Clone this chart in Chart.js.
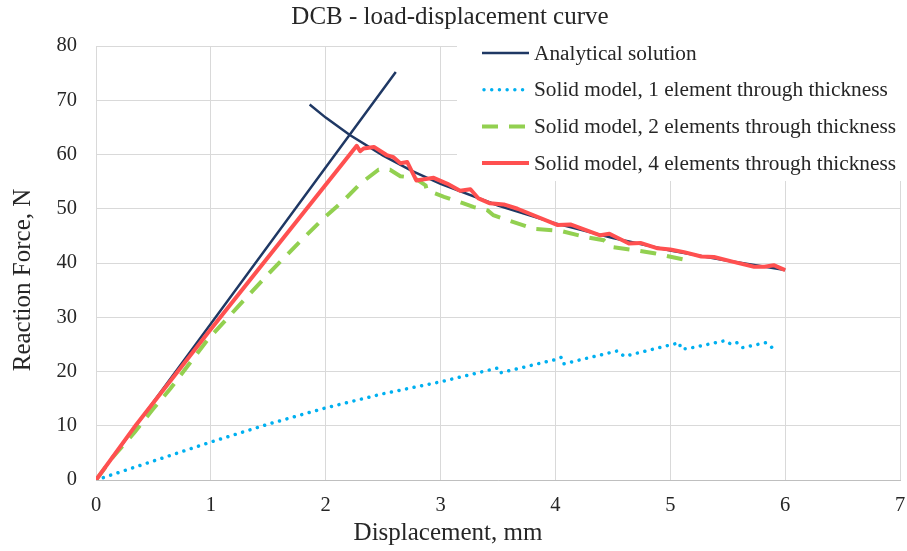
<!DOCTYPE html>
<html lang="en">
<head>
    <meta charset="UTF-8">
    <title>DCB - load-displacement curve</title>
    <script src="https://cdn.jsdelivr.net/npm/chart.js"></script>
    <style>
        body { margin: 0; background: #fff; }
        .chart-box { width: 907px; height: 551px; position: relative; }
    </style>
</head>
<body>
    <div class="chart-box">
        <canvas id="dcbChart"></canvas>
    </div>

    <script>
        // Series names (legend order)
        const seriesNames = [
            'Analytical solution',
            'Solid model, 1 element through thickness',
            'Solid model, 2 elements through thickness',
            'Solid model, 4 elements through thickness'
        ];

        // Analytical solution: rising branch, gap, then falling branch
        const analyticalX = [0, 2.61, null, 1.86, 2.0, 2.21, 2.5, 2.75, 3.0, 3.5, 4.0, 4.5, 5.0, 5.5, 6.0];
        const analyticalY = [0, 75.2, null, 69.2, 66.8, 63.6, 59.8, 57.0, 54.6, 50.6, 47.3, 44.6, 42.3, 40.4, 38.7];

        // Solid model, 1 element through thickness
        const solid1X = [0, 0.5, 1.0, 1.5, 2.0, 2.5, 3.0, 3.49, 3.51, 4.0, 4.05, 4.07, 4.54, 4.60, 5.0, 5.08, 5.09, 5.15, 5.48, 5.53, 5.58, 5.63, 5.83, 5.90];
        const solid1Y = [0, 3.5, 7.0, 10.3, 13.3, 15.9, 18.1, 20.6, 19.7, 22.2, 22.6, 21.4, 23.8, 22.8, 24.9, 25.3, 24.2, 24.2, 25.7, 25.0, 25.3, 24.4, 25.3, 24.2];

        // Solid model, 2 elements through thickness
        const solid2X = [0, 0.15, 0.34, 0.49, 0.65, 0.97, 1.26, 1.52, 1.75, 1.98, 2.16, 2.30, 2.46, 2.56, 2.65, 2.77, 2.87, 2.88, 3.03, 3.20, 3.29, 3.41, 3.46, 3.81, 4.05, 4.28, 4.42, 4.48, 4.68, 4.86, 5.15];
        const solid2Y = [0, 4.3, 8.9, 12.9, 16.9, 25.8, 32.5, 38.4, 43.4, 48.2, 51.6, 54.6, 57.2, 57.2, 56.0, 55.7, 54.3, 53.4, 52.2, 51.0, 50.3, 49.7, 48.8, 46.3, 45.9, 44.7, 44.2, 43.0, 42.4, 41.8, 40.5];

        // Solid model, 4 elements through thickness
        const solid4X = [0, 0.35, 0.97, 2.27, 2.30, 2.33, 2.42, 2.53, 2.59, 2.65, 2.71, 2.79, 2.94, 3.06, 3.17, 3.26, 3.33, 3.43, 3.55, 3.67, 4.02, 4.13, 4.39, 4.47, 4.64, 4.74, 4.89, 5.00, 5.12, 5.27, 5.38, 5.55, 5.73, 5.82, 5.90, 6.00];
        const solid4Y = [0, 10.2, 27.0, 61.6, 60.6, 61.1, 61.4, 59.9, 59.5, 58.4, 58.6, 55.2, 55.7, 54.6, 53.3, 53.6, 51.9, 51.0, 50.8, 50.0, 47.0, 47.1, 45.1, 45.4, 43.6, 43.7, 42.7, 42.5, 42.0, 41.2, 41.1, 40.2, 39.3, 39.3, 39.6, 38.7];

        // Axis ticks
        const xTicks = [0, 1, 2, 3, 4, 5, 6, 7];
        const yTicks = [0, 10, 20, 30, 40, 50, 60, 70, 80];

        const toPoints = (xs, ys) => xs.map((x, i) => ({ x: x, y: ys[i] }));

        const serif = "'Liberation Serif', 'Times New Roman', serif";
        const textColor = '#262626';

        // Legend drawn inside the plot on a white box, like the spreadsheet chart
        const boxLegend = {
            id: 'boxLegend',
            afterDatasetsDraw(chart) {
                const ctx = chart.ctx;
                const area = chart.chartArea;
                const left = 457;
                const bottom = 181;
                ctx.save();
                ctx.fillStyle = '#ffffff';
                ctx.fillRect(left, area.top - 2, area.right - left + 4, bottom - area.top + 2);

                ctx.font = '21.3px ' + serif;
                ctx.textBaseline = 'middle';
                ctx.textAlign = 'left';
                chart.data.datasets.forEach((ds, i) => {
                    const y = 53 + i * 36.7;
                    ctx.beginPath();
                    ctx.strokeStyle = ds.borderColor;
                    ctx.lineWidth = ds.borderWidth;
                    ctx.lineCap = ds.borderCapStyle || 'butt';
                    ctx.setLineDash(ds.borderDash || []);
                    const x0 = ds.borderCapStyle === 'round' ? 484 : 482;
                    ctx.moveTo(x0, y);
                    ctx.lineTo(529, y);
                    ctx.stroke();
                    ctx.setLineDash([]);
                    ctx.fillStyle = textColor;
                    ctx.fillText(ds.label, 534, y + 1);
                });
                ctx.restore();
            }
        };

        // Axis titles (positioned like the original, not centred on the plot)
        const axisTitles = {
            id: 'axisTitles',
            afterDraw(chart) {
                const ctx = chart.ctx;
                ctx.save();
                ctx.font = '25px ' + serif;
                ctx.fillStyle = textColor;
                ctx.textAlign = 'center';
                ctx.textBaseline = 'middle';
                ctx.fillText('Displacement, mm', 448, 533);
                ctx.translate(23.5, 280);
                ctx.rotate(-Math.PI / 2);
                ctx.fillText('Reaction Force, N', 0, 0);
                ctx.restore();
            }
        };

        const ctx = document.getElementById('dcbChart').getContext('2d');

        new Chart(ctx, {
            type: 'scatter',
            data: {
                datasets: [
                    {
                        label: seriesNames[0],
                        data: toPoints(analyticalX, analyticalY),
                        borderColor: '#1f3864',
                        borderWidth: 2.5,
                        order: 3
                    },
                    {
                        label: seriesNames[1],
                        data: toPoints(solid1X, solid1Y),
                        borderColor: '#00b0f0',
                        borderWidth: 3.5,
                        borderDash: [0.01, 7.7],
                        borderCapStyle: 'round',
                        order: 2
                    },
                    {
                        label: seriesNames[2],
                        data: toPoints(solid2X, solid2Y),
                        borderColor: '#92d050',
                        borderWidth: 4,
                        borderDash: [16, 11],
                        order: 1
                    },
                    {
                        label: seriesNames[3],
                        data: toPoints(solid4X, solid4Y),
                        borderColor: '#ff5050',
                        borderWidth: 4,
                        borderJoinStyle: 'round',
                        order: 0
                    }
                ]
            },
            options: {
                responsive: true,
                maintainAspectRatio: false,
                animation: false,
                showLine: true,
                spanGaps: false,
                elements: {
                    point: { radius: 0, hoverRadius: 0 },
                    line: { tension: 0, fill: false }
                },
                layout: { padding: { right: 7 } },
                scales: {
                    x: {
                        type: 'linear',
                        min: 0,
                        max: 7,
                        afterFit: scale => {
                            scale.height = 71;
                            scale.paddingLeft = 0;
                            scale.paddingRight = 0;
                        },
                        afterBuildTicks: scale => { scale.ticks = xTicks.map(v => ({ value: v })); },
                        grid: { color: '#d9d9d9', drawTicks: false },
                        border: { color: '#bfbfbf' },
                        ticks: {
                            padding: 13.4,
                            color: textColor,
                            font: { family: serif, size: 20.5 }
                        }
                    },
                    y: {
                        min: 0,
                        max: 80,
                        afterFit: scale => {
                            scale.width = 96;
                            scale.paddingTop = 0;
                            scale.paddingBottom = 0;
                        },
                        afterBuildTicks: scale => { scale.ticks = yTicks.map(v => ({ value: v })); },
                        grid: { color: '#d9d9d9', drawTicks: false },
                        border: { display: false },
                        ticks: {
                            padding: 19,
                            color: textColor,
                            font: { family: serif, size: 20.5 }
                        }
                    }
                },
                plugins: {
                    legend: { display: false },
                    tooltip: { enabled: false },
                    title: {
                        display: true,
                        text: 'DCB - load-displacement curve',
                        color: textColor,
                        font: { family: serif, size: 25, weight: 'normal' },
                        padding: { top: 2, bottom: 14 }
                    }
                }
            },
            plugins: [boxLegend, axisTitles]
        });
    </script>
</body>
</html>
